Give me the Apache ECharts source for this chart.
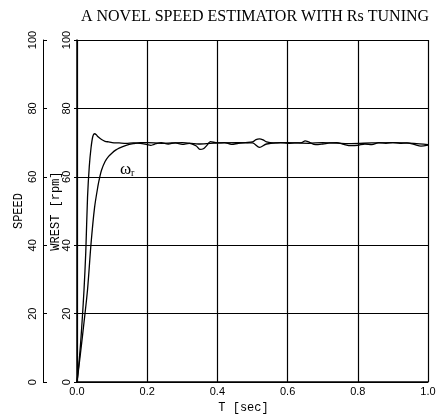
<!DOCTYPE html>
<html>
<head>
<meta charset="utf-8">
<script src="https://cdn.jsdelivr.net/npm/echarts@6/dist/echarts.min.js"></script>
<style>
  html, body { margin: 0; padding: 0; background: #fff; }
  #chart { width: 448px; height: 419px; }
</style>
</head>
<body>
<div id="chart"></div>
<script>
// tiempo [s] y velocidades [rpm]
var tEst = [0, 0.005, 0.01, 0.015, 0.02, 0.025, 0.03, 0.035, 0.04, 0.045, 0.05, 0.055, 0.06, 0.07, 0.08, 0.09,
    0.10, 0.12, 0.14, 0.16, 0.18, 0.20, 0.21, 0.22, 0.24, 0.26, 0.28, 0.30, 0.32, 0.34, 0.35, 0.36, 0.37, 0.38,
    0.40, 0.42, 0.44, 0.46, 0.48, 0.50, 0.51, 0.52, 0.53, 0.54, 0.56, 0.58, 0.60, 0.62, 0.64, 0.65, 0.66, 0.68,
    0.70, 0.72, 0.74, 0.76, 0.78, 0.80, 0.82, 0.84, 0.86, 0.88, 0.90, 0.92, 0.94, 0.96, 0.98, 1.0];
var wEst = [0, 5, 11, 18.5, 27, 38, 54, 63, 68.5, 71.8, 72.6, 72.3, 71.7, 70.9, 70.4, 70.2,
    70.0, 69.9, 69.8, 69.9, 69.8, 69.4, 69.2, 69.5, 70.0, 69.6, 69.9, 69.5, 69.8, 69.0, 68.0, 68.2, 69.2, 70.3,
    69.9, 70.0, 69.5, 69.8, 70.0, 70.2, 70.9, 71.1, 70.8, 70.2, 69.9, 70.0, 69.8, 69.9, 70.0, 70.5, 70.2, 69.4,
    69.6, 69.9, 70.0, 69.5, 69.1, 69.2, 69.6, 69.4, 70.0, 69.8, 70.0, 69.8, 69.9, 69.5, 69.0, 69.3];

var tAct = [0, 0.01, 0.02, 0.03, 0.04, 0.05, 0.06, 0.065, 0.07, 0.08, 0.09, 0.10, 0.11, 0.12, 0.14, 0.16,
    0.18, 0.20, 0.24, 0.30, 0.35, 0.40, 0.46, 0.50, 0.52, 0.54, 0.60, 0.66, 0.70, 0.78, 0.84, 0.90, 0.96, 1.0];
var wAct = [0, 8.5, 17.5, 27, 40.5, 51, 57.5, 60, 62, 64.5, 66, 67, 67.8, 68.4, 69.2, 69.7,
    70.0, 70.0, 69.8, 70.0, 69.6, 69.9, 70.0, 69.9, 68.6, 69.6, 70.0, 69.8, 70.0, 69.7, 69.9, 70.0, 69.8, 69.4];

function pares(t, w) {
    return t.map(function (v, i) { return [v, w[i]]; });
}

var chart = echarts.init(document.getElementById('chart'));

var labelFont = { color: '#000', fontFamily: 'Liberation Sans', fontSize: 11 };

var option = {
    animation: false,
    backgroundColor: '#fff',
    title: {
        text: 'A NOVEL SPEED ESTIMATOR WITH Rs TUNING',
        left: 250,
        textAlign: 'center',
        top: 4,
        textStyle: { fontFamily: 'Liberation Serif', fontSize: 16, fontWeight: 'normal', color: '#000' }
    },
    grid: { left: 77, right: 20, top: 40, bottom: 31 },
    xAxis: {
        type: 'value',
        min: 0, max: 1, interval: 0.2,
        name: 'T [sec]',
        nameLocation: 'middle',
        nameGap: 15,
        nameTextStyle: { fontFamily: 'Liberation Mono', fontSize: 12, color: '#000', padding: [0, 18, 0, 0] },
        axisLine: { show: true, lineStyle: { color: '#000', width: 1.5 } },
        axisTick: { show: false },
        axisLabel: Object.assign({ margin: 4, formatter: function (v) { return v.toFixed(1); } }, labelFont),
        splitLine: { show: true, lineStyle: { color: '#000', width: 1.2 } }
    },
    yAxis: [
        {
            type: 'value',
            min: 0, max: 100, interval: 20,
            name: 'WREST [rpm]',
            nameLocation: 'middle',
            nameRotate: 90,
            nameGap: 15,
            nameMoveOverlap: false,
            nameTextStyle: { fontFamily: 'Liberation Mono', fontSize: 12, color: '#000' },
            axisLine: { show: true, lineStyle: { color: '#000', width: 1.5 } },
            axisTick: { show: true, length: 3, lineStyle: { color: '#000' } },
            axisLabel: Object.assign({ rotate: 90, margin: 5 }, labelFont),
            splitLine: { show: true, lineStyle: { color: '#000', width: 1.2 } }
        },
        {
            type: 'value',
            position: 'left',
            offset: 34,
            min: 0, max: 100, interval: 20,
            name: 'SPEED',
            nameLocation: 'middle',
            nameRotate: 90,
            nameGap: 18,
            nameMoveOverlap: false,
            nameTextStyle: { fontFamily: 'Liberation Mono', fontSize: 12, color: '#000' },
            axisLine: { show: true, lineStyle: { color: '#000', width: 1 } },
            axisTick: { show: true, inside: true, length: 4, lineStyle: { color: '#000' } },
            axisLabel: Object.assign({ rotate: 90, margin: 5 }, labelFont),
            splitLine: { show: false }
        }
    ],
    series: [
        {
            name: 'estimated',
            type: 'line',
            data: pares(tEst, wEst),
            showSymbol: false,
            smooth: 0.3,
            lineStyle: { color: '#000', width: 1.3 }
        },
        {
            name: 'wr',
            type: 'line',
            data: pares(tAct, wAct),
            showSymbol: false,
            smooth: 0.3,
            lineStyle: { color: '#000', width: 1.3 },
            markPoint: {
                symbol: 'circle',
                symbolSize: 1,
                itemStyle: { color: 'transparent' },
                label: {
                    show: true,
                    formatter: '{w|ω}{s|r}',
                    rich: {
                        w: { fontFamily: 'Liberation Serif', fontSize: 17, color: '#000' },
                        s: { fontFamily: 'Liberation Serif', fontSize: 10, color: '#000', verticalAlign: 'bottom', padding: [7, 0, 0, 0] }
                    }
                },
                data: [{ coord: [0.143, 62] }]
            }
        }
    ]
};

chart.setOption(option);
</script>
</body>
</html>
